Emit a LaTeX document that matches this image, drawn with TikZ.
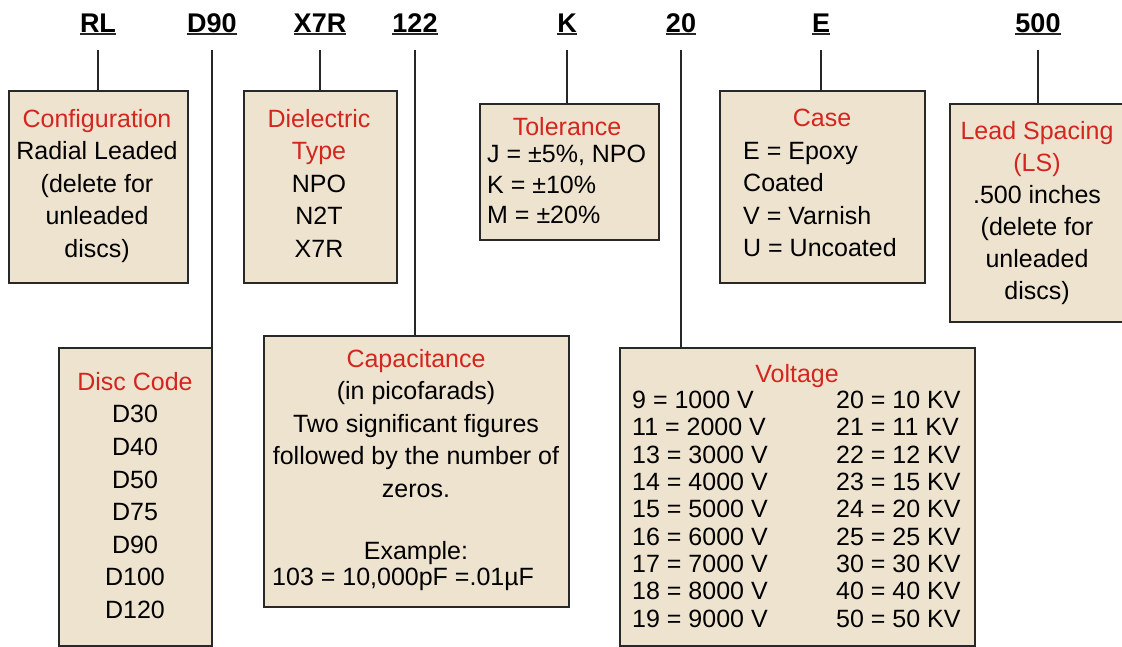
\documentclass[tikz,border=0pt]{standalone}
\usepackage{fontspec}
\setmainfont{Liberation Sans}
\usetikzlibrary{positioning}
\definecolor{boxfill}{RGB}{238,227,207}
\definecolor{boxline}{RGB}{40,40,40}
\definecolor{titlered}{RGB}{210,38,30}
\newcommand{\rt}[1]{\textcolor{titlered}{#1}}
\tikzset{
  box/.style={draw=boxline, fill=boxfill, line width=2pt, rectangle, inner sep=0pt, anchor=north west},
  hdr/.style={font=\fontsize{27}{30}\selectfont\bfseries, inner xsep=0pt, inner ysep=2pt, text depth=0pt, anchor=base},
  uline/.style={line width=2pt, draw=black!85},
  conn/.style={line width=2pt, draw=black!85, shorten <=16pt},
  body/.style={font=\fontsize{25}{32.5}\selectfont, inner sep=0pt, anchor=north, align=center},
  bodyl/.style={font=\fontsize{25}{32.5}\selectfont, inner sep=0pt, anchor=north west, align=left},
  volt/.style={font=\fontsize{25}{27.3}\selectfont, inner sep=0pt, anchor=north west, align=left},
}
\begin{document}
\begin{tikzpicture}[x=1pt,y=-1pt]
\useasboundingbox (0,0) rectangle (1122,646);
% headers
\node[hdr] (hRL)  at (98,32)   {RL};
\node[hdr] (hD90) at (212,32)  {D90};
\node[hdr] (hX7R) at (320,32)  {X7R};
\node[hdr] (h122) at (415,32)  {122};
\node[hdr] (hK)   at (567,32)  {K};
\node[hdr] (h20)  at (681,32)  {20};
\node[hdr] (hE)   at (821,32)  {E};
\node[hdr] (h500) at (1038,32) {500};
\foreach \h in {hRL,hD90,hX7R,h122,hK,h20,hE,h500}
  \draw[uline] (\h.south west) -- (\h.south east);
% boxes
\node[box, minimum width=179pt, minimum height=192pt] (cfg)  at (8,90) {};
\node[box, minimum width=153pt, minimum height=192pt] (diel) at (243,90) {};
\node[box, minimum width=179pt, minimum height=136pt] (tol)  at (479,103) {};
\node[box, minimum width=205pt, minimum height=192pt] (case) at (719,90) {};
\node[box, minimum width=176pt, minimum height=218pt] (ls)   at (949,103) {};
\node[box, minimum width=153pt, minimum height=298pt] (disc) at (58,347) {};
\node[box, minimum width=305pt, minimum height=271pt] (cap)  at (263,335) {};
\node[box, minimum width=355pt, minimum height=298pt] (vol)  at (619,347) {};
% connectors
\draw[conn] (hRL.south)  -- (hRL.south |- cfg.north);
\draw[conn] (hD90.south) -- (hD90.south |- disc.north);
\draw[conn] (hX7R.south) -- (hX7R.south |- diel.north);
\draw[conn] (h122.south) -- (h122.south |- cap.north);
\draw[conn] (hK.south)   -- (hK.south |- tol.north);
\draw[conn] (h20.south)  -- (h20.south |- vol.north);
\draw[conn] (hE.south)   -- (hE.south |- case.north);
\draw[conn] (h500.south) -- (h500.south |- ls.north);
% texts
\node[body] (tcfg) at (97,109) {\rt{Configuration}\\Radial Leaded\\(delete for\\unleaded\\discs)};
\node[body] (tdiel) at (319,109) {\rt{Dielectric}\\\rt{Type}\\NPO\\N2T\\X7R};
\node[body] (ttolh) at (567,117) {\rt{Tolerance}};
\node[bodyl, font=\fontsize{25}{30.5}\selectfont] (ttol) at (487,145) {J = ±5\%, NPO\\K = ±10\%\\M = ±20\%};
\node[body] (tcaseh) at (822,109) {\rt{Case}};
\node[bodyl, font=\fontsize{25}{32.3}\selectfont] (tcase) at (743,142) {E = Epoxy\\Coated\\V = Varnish\\U = Uncoated};
\node[body, font=\fontsize{25}{32}\selectfont] (tls) at (1037,121) {\rt{Lead Spacing}\\\rt{(LS)}\\.500 inches\\(delete for\\unleaded\\discs)};
\node[body, font=\fontsize{25}{32.6}\selectfont] (tdisc) at (135,372) {\rt{Disc Code}\\D30\\D40\\D50\\D75\\D90\\D100\\D120};
\node[body] (tcap) at (416,349) {\rt{Capacitance}\\(in picofarads)\\Two significant figures\\followed by the number of\\zeros.\\[30pt]Example:};
\node[bodyl] (tcapex) at (272,568) {103 = 10,000pF =.01µF};
\node[body] (tvolh) at (797,364) {\rt{Voltage}};
\node[volt] (tvl) at (632,391) {9 = 1000 V\\11 = 2000 V\\13 = 3000 V\\14 = 4000 V\\15 = 5000 V\\16 = 6000 V\\17 = 7000 V\\18 = 8000 V\\19 = 9000 V};
\node[volt] (tvr) at (836,391) {20 = 10 KV\\21 = 11 KV\\22 = 12 KV\\23 = 15 KV\\24 = 20 KV\\25 = 25 KV\\30 = 30 KV\\40 = 40 KV\\50 = 50 KV};
\end{tikzpicture}
\end{document}
